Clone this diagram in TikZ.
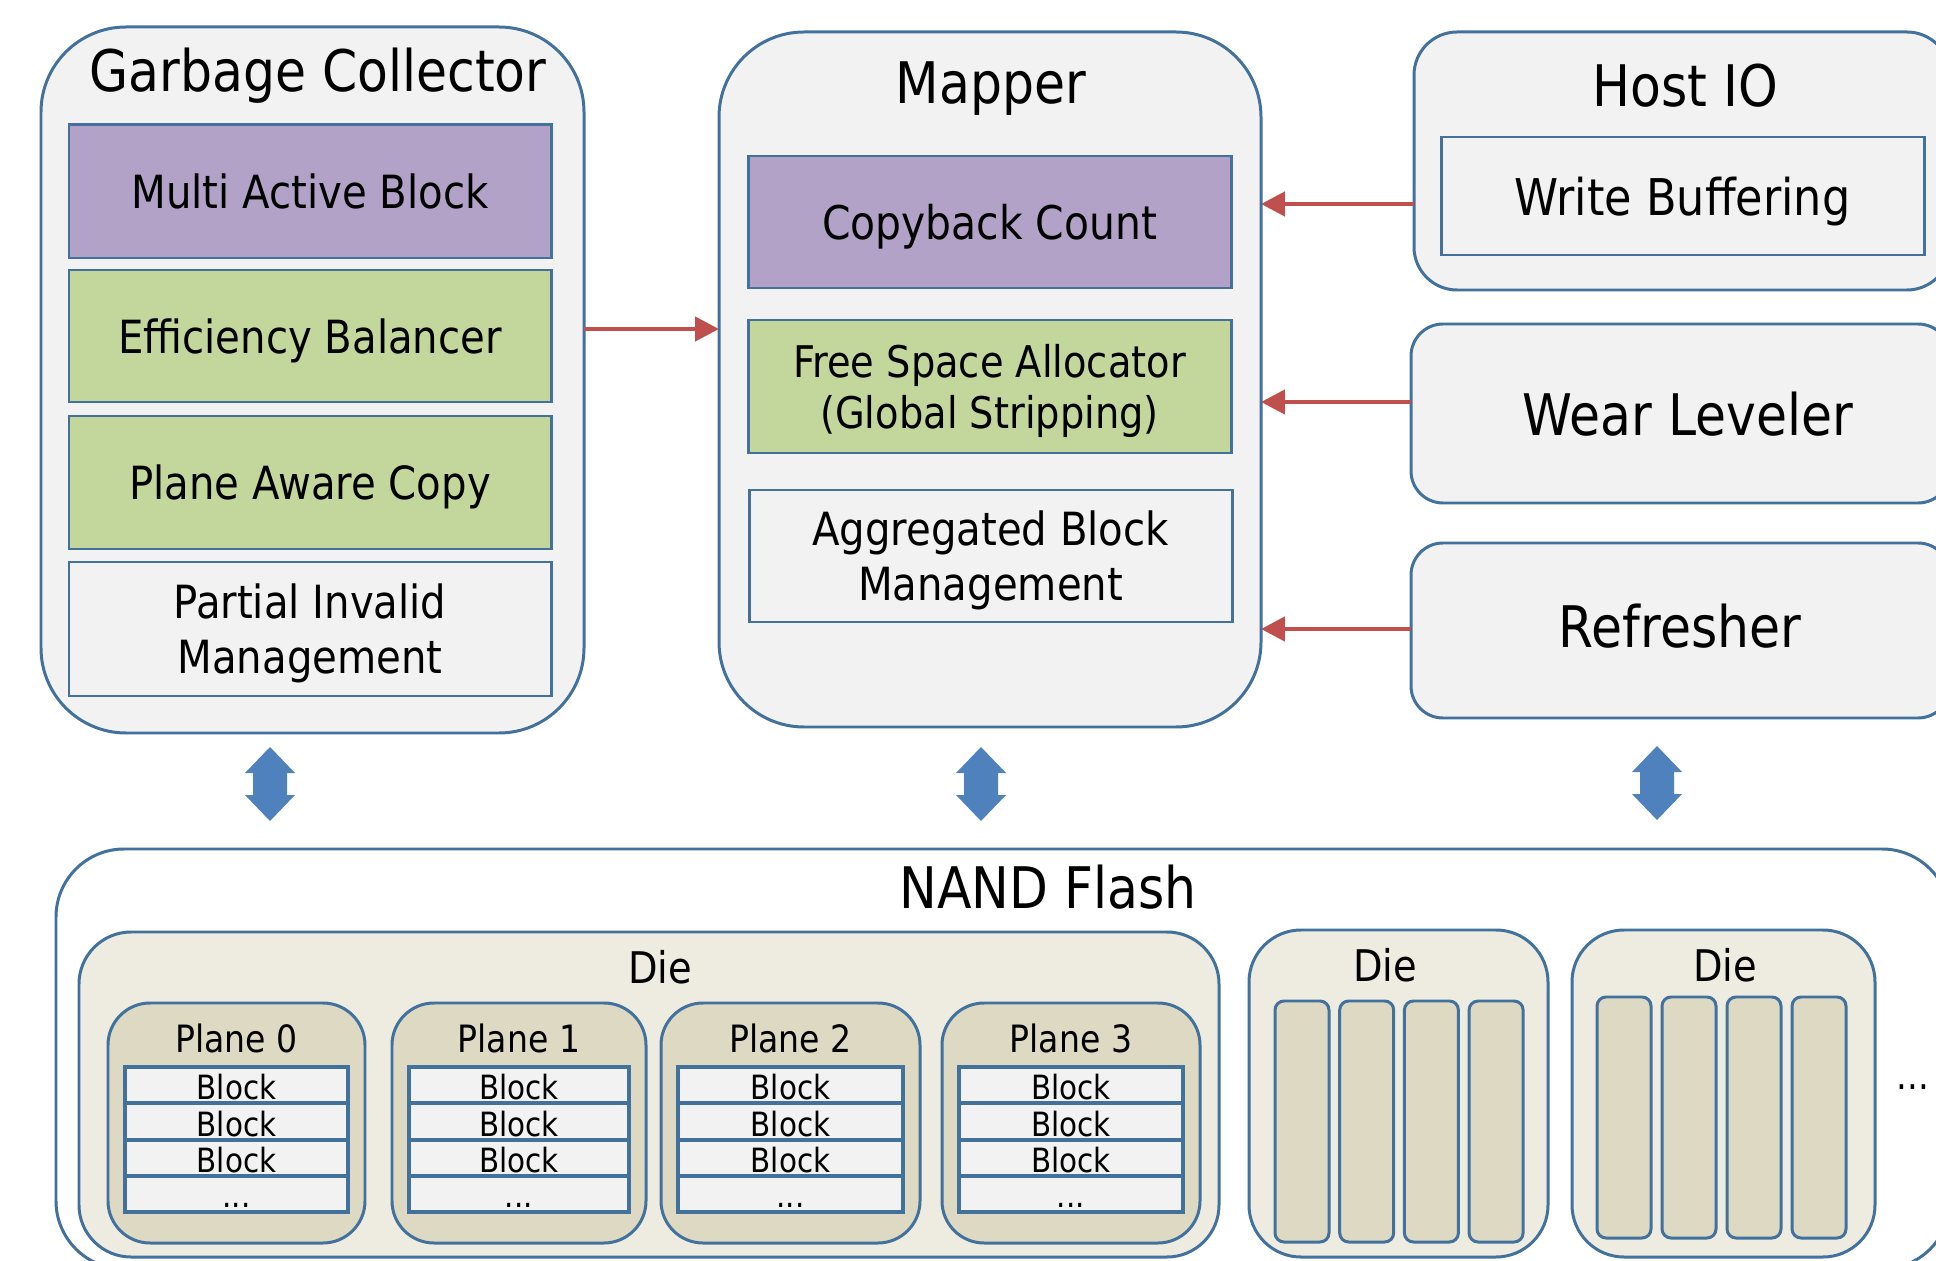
\documentclass[tikz,border=0pt]{standalone}
\usepackage{fontspec}
\setmainfont{DejaVu Sans}[FakeStretch=0.88]
\usetikzlibrary{arrows.meta,fit}

\definecolor{bdr}{RGB}{65,113,156}
\definecolor{boxgray}{RGB}{242,242,242}
\definecolor{purp}{RGB}{178,162,199}
\definecolor{grn}{RGB}{195,214,155}
\definecolor{dietan}{RGB}{238,236,225}
\definecolor{planetan}{RGB}{221,217,195}
\definecolor{redc}{RGB}{192,80,77}
\definecolor{bluea}{RGB}{79,129,189}

\newcommand\fsz[2]{\fontsize{#1}{#2}\selectfont}

\begin{document}
\begin{tikzpicture}[x=0.01cm,y=-0.01cm,
  every node/.style={inner sep=0pt, outer sep=0pt},
  titlef/.style={font=\fsz{16.3}{19.5}},
  lab/.style={align=center, text depth=0pt, font=\fsz{13}{15.6}},
  outerbox/.style={draw=bdr, fill=boxgray, line width=0.85pt, rounded corners=0.85cm},
  sidebox/.style={draw=bdr, fill=boxgray, line width=0.85pt, rounded corners=0.32cm},
  innerbox/.style={draw=bdr, fill=boxgray, line width=0.85pt},
  purplebox/.style={innerbox, fill=purp},
  greenbox/.style={innerbox, fill=grn},
  nandbox/.style={draw=bdr, fill=white, line width=0.85pt, rounded corners=0.68cm},
  diebox/.style={draw=bdr, fill=dietan, line width=0.85pt, rounded corners=0.52cm},
  planebox/.style={draw=bdr, fill=planetan, line width=0.85pt, rounded corners=0.42cm},
  blockbox/.style={draw=bdr, fill=boxgray, line width=0.95pt},
  colbox/.style={draw=bdr, fill=planetan, line width=0.85pt, rounded corners=0.09cm},
  dief/.style={font=\fsz{12.4}{14.5}},
  planef/.style={font=\fsz{10.7}{12.5}},
  blockf/.style={font=\fsz{9.5}{11}},
  redarrow/.style={draw=redc, line width=1.3pt, -{Triangle[length=6.8pt,width=6.8pt]}},
  dblarrow/.pic={\fill[bluea] (0,-37) -- (25,-11) -- (17,-11) -- (17,11) -- (25,11) -- (0,37) -- (-25,11) -- (-17,11) -- (-17,-11) -- (-25,-11) -- cycle;}
]
\fill[white] (0,0) rectangle (1936,1261);
\useasboundingbox (0,0) rectangle (1936,1261);

% ---------------- Garbage Collector ----------------
\node[outerbox, fit={(41,27) (584,733)}] (gc) {};
\node[titlef, anchor=base] (gct) at (318,92) {Garbage Collector};
\node[purplebox, fit={(69,125) (551,258)}] (mab) {};
\node[lab] (mabt) at (mab.center) {Multi Active Block};
\node[greenbox, fit={(69,270) (551,402)}] (eb) {};
\node[lab] (ebt) at (eb.center) {Efficiency Balancer};
\node[greenbox, fit={(69,416) (551,549)}] (pac) {};
\node[lab] (pact) at (pac.center) {Plane Aware Copy};
\node[innerbox, fit={(69,562) (551,696)}] (pim) {};
\node[lab] (pimt) at (pim.center) {Partial Invalid\\Management};

% ---------------- Mapper ----------------
\node[outerbox, fit={(719,32) (1261,727)}] (mapper) {};
\node[titlef, anchor=base] (mapt) at (991,104) {Mapper};
\node[purplebox, fit={(748,156) (1231,288)}] (cbc) {};
\node[lab, font=\fsz{13.2}{15.6}] (cbct) at (cbc.center) {Copyback Count};
\node[greenbox, fit={(748,320) (1231,453)}] (fsa) {};
\node[lab, font=\fsz{12.4}{14.6}] (fsat) at (fsa.center) {Free Space Allocator\\(Global Stripping)};
\node[innerbox, fit={(749,490) (1232,622)}] (abm) {};
\node[lab] (abmt) at (abm.center) {Aggregated Block\\Management};

% ---------------- Right column ----------------
\node[draw=bdr, fill=boxgray, line width=0.85pt, rounded corners=0.43cm, fit={(1414,32) (1950,290)}] (hostio) {};
\node[titlef, anchor=base] (hiot) at (1685,107) {Host IO};
\node[innerbox, fit={(1441,137) (1924,255)}] (wbuf) {};
\node[lab, font=\fsz{14.4}{17}] (wbuft) at (wbuf.center) {Write Buffering};
\node[sidebox, fit={(1411,324) (1950,503)}] (wear) {};
\node[titlef, anchor=base] (weart) at (1688,436) {Wear Leveler};
\node[sidebox, fit={(1411,543) (1950,718)}] (refr) {};
\node[titlef, anchor=base] (refrt) at (1680,647) {Refresher};

% ---------------- red connectors ----------------
\draw[redarrow] (gc.east |- 0,329) -- (mapper.west |- 0,329);
\draw[redarrow] (hostio.west |- 0,204) -- (mapper.east |- 0,204);
\draw[redarrow] (wear.west |- 0,402) -- (mapper.east |- 0,402);
\draw[redarrow] (refr.west |- 0,629) -- (mapper.east |- 0,629);

% ---------------- blue double arrows ----------------
\pic (ua1) at (270,784) {dblarrow};
\pic (ua2) at (981,784) {dblarrow};
\pic (ua3) at (1657,783) {dblarrow};

% ---------------- NAND Flash ----------------
\node[nandbox, fit={(56,849) (1950,1269)}] (nand) {};
\node[titlef, anchor=base] (nandt) at (1048,908) {NAND Flash};

\node[diebox, fit={(79,932) (1219,1257)}] (die1) {};
\node[dief, anchor=base] (die1t) at (660,983) {Die};
\foreach \i/\xa/\xb in {0/108/365, 1/392/646, 2/661/920, 3/942/1200} {
  \node[planebox, fit={(\xa,1003) (\xb,1243)}] (p\i) {};
  \node[planef, anchor=base] (pt\i) at ({(\xa+\xb)/2},1052) {Plane \i};
  \foreach \k/\ya/\yb in {1/1067/1103, 2/1103/1140, 3/1140/1176} {
    \node[blockbox, fit={({\xa+17},\ya) ({\xb-17},\yb)}] (b\i-\k) {};
    \node[blockf, anchor=base] (bt\i-\k) at ({(\xa+\xb)/2},{\yb-4}) {Block};
  }
  \node[blockbox, fit={({\xa+17},1176) ({\xb-17},1212)}] (b\i-4) {};
  \node[blockf, anchor=base] (dots\i) at ({(\xa+\xb)/2},1207) {...};
}

\node[diebox, fit={(1249,930) (1548,1257)}] (die2) {};
\node[dief, anchor=base] (die2t) at (1385,981) {Die};
\foreach \j in {0,...,3} {
  \node[colbox, fit={({1275+64.7*\j},1001) ({1329+64.7*\j},1242)}] (c2-\j) {};
}
\node[diebox, fit={(1572,930) (1875,1257)}] (die3) {};
\node[dief, anchor=base] (die3t) at (1725,981) {Die};
\foreach \j in {0,...,3} {
  \node[colbox, fit={({1597+65*\j},997) ({1651+65*\j},1238)}] (c3-\j) {};
}
\node[font=\fsz{11}{13}, anchor=base] (more) at (1913,1089) {...};

\end{tikzpicture}
\end{document}
